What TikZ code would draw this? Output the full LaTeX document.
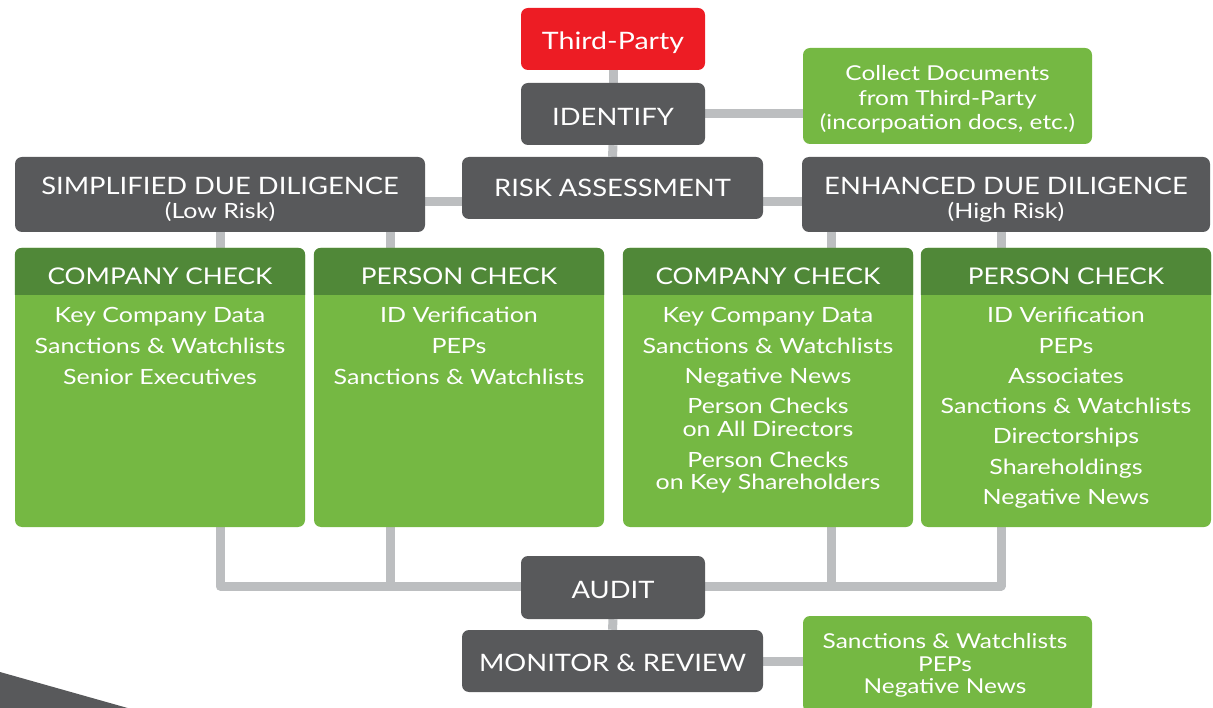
\documentclass[tikz,border=0pt]{standalone}
\usepackage{fontspec}
\setmainfont{Lato}[FakeStretch=1.19]
\newfontfamily\capsfont{Lato}[FakeStretch=1.14]
\usetikzlibrary{calc,backgrounds}

\definecolor{slate}{HTML}{58595B}
\definecolor{leaf}{HTML}{75B843}
\definecolor{moss}{HTML}{508838}
\definecolor{alert}{HTML}{ED1C24}
\definecolor{wire}{HTML}{BCBEC0}

\newcommand{\fs}[1]{\fontsize{#1}{#1}\selectfont}

\begin{document}
\begin{tikzpicture}[x=1pt,y=-1pt,
  panel/.style={rounded corners=7pt, inner sep=0pt, draw=none},
  darkbox/.style={panel, fill=slate},
  redbox/.style={panel, fill=alert},
  greenbox/.style={panel, fill=leaf},
  label/.style={inner sep=0pt, text=white, anchor=base, yshift=-1.5pt},
  big/.style={label, font=\capsfont\fs{24}},
  plainbig/.style={label, font=\fs{24}},
  small/.style={label, font=\fs{21}},
  head/.style={label, font=\capsfont\fs{23}},
  item/.style={label, font=\fs{21}},
  note/.style={label, font=\fs{20.5}},
  wire/.style={draw=wire, line width=9pt, line join=round}
]
\useasboundingbox (0,0) rectangle (1213,708);

% corner wedge
\fill[slate] (0,672) -- (140,711.5) -- (0,711.5) -- cycle;

% boxes
\node[redbox, minimum width=184, minimum height=62] (party) at (613,39) {};
\node[darkbox, minimum width=184, minimum height=62] (identify) at (613,114) {};
\node[greenbox, minimum width=289, minimum height=96] (collect) at (947.5,96) {};
\node[darkbox, minimum width=301, minimum height=62] (risk) at (612.5,188) {};
\node[darkbox, minimum width=410, minimum height=75] (simp) at (220,194.5) {};
\node[darkbox, minimum width=408, minimum height=75] (enh) at (1006,194.5) {};
\node[greenbox, minimum width=290, minimum height=279] (cc1) at (160,387.5) {};
\node[greenbox, minimum width=290, minimum height=279] (pc1) at (459,387.5) {};
\node[greenbox, minimum width=290, minimum height=279] (cc2) at (768,387.5) {};
\node[greenbox, minimum width=290, minimum height=279] (pc2) at (1066,387.5) {};
\node[darkbox, minimum width=184, minimum height=63] (audit) at (613,587.5) {};
\node[darkbox, minimum width=301, minimum height=62] (monitor) at (612.5,661) {};
\node[greenbox, minimum width=289, minimum height=96] (watch) at (947.5,664) {};

% check headers
\foreach \b in {cc1,pc1,cc2,pc2}{
  \fill[moss] (\b.west |- 0,295) [rounded corners=7pt] -- (\b.north west) -- (\b.north east) [sharp corners] -- (\b.east |- 0,295) -- cycle;
}

% connector positions
\coordinate (dropA) at (220,0);
\coordinate (dropB) at (390,0);
\coordinate (dropC) at (831,0);
\coordinate (dropD) at (1001,0);
\coordinate (bus) at (0,586);
\coordinate (sideY) at (0,202);

% connectors, kept under the boxes
\begin{scope}[on background layer]
  \draw[wire] (party.south) -- (identify.north);
  \draw[wire] (identify.south) -- (risk.north);
  \draw[wire] (identify.east) -- (collect.west |- identify.east);
  \draw[wire] (risk.west |- sideY) -- (simp.east |- sideY);
  \draw[wire] (risk.east |- sideY) -- (enh.west |- sideY);
  \draw[wire] (simp.south -| dropA) -- (cc1.north -| dropA);
  \draw[wire] (simp.south -| dropB) -- (pc1.north -| dropB);
  \draw[wire] (enh.south -| dropC) -- (cc2.north -| dropC);
  \draw[wire] (enh.south -| dropD) -- (pc2.north -| dropD);
  \draw[wire] (cc1.south -| dropA) -- (bus -| dropA) -- (bus -| dropD) -- (pc2.south -| dropD);
  \draw[wire] (pc1.south -| dropB) -- (bus -| dropB);
  \draw[wire] (cc2.south -| dropC) -- (bus -| dropC);
  \draw[wire] (audit.south) -- (monitor.north);
  \draw[wire] (monitor.east) -- (watch.west |- monitor.east);
\end{scope}

% box titles
\node[plainbig] (tParty) at (613,48) {Third-Party};
\node[big] (tIdentify) at (613,124) {IDENTIFY};
\node[big] (tRisk) at (612.5,195) {RISK ASSESSMENT};
\node[big] (tSimp) at (220,193) {SIMPLIFIED DUE DILIGENCE};
\node[small] (sSimp) at (220,217) {(Low Risk)};
\node[big] (tEnh) at (1006,193) {ENHANCED DUE DILIGENCE};
\node[small] (sEnh) at (1006,217) {(High Risk)};
\node[big] (tAudit) at (613,597) {AUDIT};
\node[big] (tMonitor) at (612.5,670) {MONITOR \& REVIEW};

\node[note] (n1) at (947.5,79) {Collect Documents};
\node[note] (n2) at (947.5,104) {from Third-Party};
\node[note] (n3) at (947.5,128) {(incorpoation docs, etc.)};

\node[note] (w1) at (945,647) {Sanctions \& Watchlists};
\node[note] (w2) at (945,670) {PEPs};
\node[note] (w3) at (945,692) {Negative News};

% check headers text
\node[head] (hcc1) at (160,283) {COMPANY CHECK};
\node[head] (hpc1) at (459,283) {PERSON CHECK};
\node[head] (hcc2) at (768,283) {COMPANY CHECK};
\node[head] (hpc2) at (1066,283) {PERSON CHECK};

% check items
\node[item] (a1) at (160,321) {Key Company Data};
\node[item] (a2) at (160,352) {Sanctions \& Watchlists};
\node[item] (a3) at (160,383) {Senior Executives};

\node[item] (b1) at (459,321) {ID Verification};
\node[item] (b2) at (459,352) {PEPs};
\node[item] (b3) at (459,383) {Sanctions \& Watchlists};

\node[item] (c1) at (768,321) {Key Company Data};
\node[item] (c2) at (768,352) {Sanctions \& Watchlists};
\node[item] (c3) at (768,382) {Negative News};
\node[item] (c4) at (768,412) {Person Checks};
\node[item] (c5) at (768,435) {on All Directors};
\node[item] (c6) at (768,466) {Person Checks};
\node[item] (c7) at (768,488) {on Key Shareholders};

\node[item] (d1) at (1066,321) {ID Verification};
\node[item] (d2) at (1066,352) {PEPs};
\node[item] (d3) at (1066,382) {Associates};
\node[item] (d4) at (1066,412) {Sanctions \& Watchlists};
\node[item] (d5) at (1066,442) {Directorships};
\node[item] (d6) at (1066,473) {Shareholdings};
\node[item] (d7) at (1066,503) {Negative News};
\end{tikzpicture}
\end{document}
